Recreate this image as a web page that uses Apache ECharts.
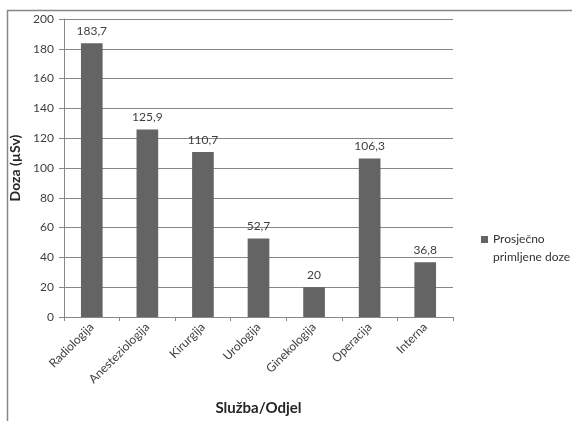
<!DOCTYPE html>
<html>
<head>
<meta charset="utf-8">
<script src="https://cdn.jsdelivr.net/npm/echarts@6/dist/echarts.min.js"></script>
<style>
  html, body { margin: 0; padding: 0; background: #fff; }
  #chart { width: 572px; height: 421px; }
</style>
</head>
<body>
<div id="chart"></div>
<script>
// Average received dose per department
const categories = ['Radiologija', 'Anesteziologija', 'Kirurgija', 'Urologija', 'Ginekologija', 'Operacija', 'Interna'];
const doses = [183.7, 125.9, 110.7, 52.7, 20, 106.3, 36.8];
const seriesName = 'Prosječno primljene doze';
const yTicks = { min: 0, max: 200, interval: 20 };

const FONT = 'Lato, "Open Sans", sans-serif';
const TEXT = '#404040';
const LINE = '#878787';

const chart = echarts.init(document.getElementById('chart'), null, { renderer: 'canvas' });

chart.setOption({
  animation: false,
  textStyle: { fontFamily: FONT },
  grid: { left: 64, right: 119, top: 19, bottom: 102, containLabel: false },
  graphic: [
    {
      type: 'polyline',
      shape: { points: [[7.5, 421], [7.5, 10.5], [572, 10.5]] },
      style: { stroke: LINE, lineWidth: 1.5, fill: null }
    }
  ],
  legend: {
    left: 481,
    top: 230,
    padding: 0,
    orient: 'vertical',
    icon: 'path://M0,0H7V7H0Z M0,24L0.001,24',
    itemWidth: 7,
    itemHeight: 24,
    itemGap: 2,
    formatter: () => 'Prosječno\nprimljene doze',
    textStyle: { fontFamily: FONT, fontSize: 12, color: '#333333', lineHeight: 18 }
  },
  xAxis: {
    type: 'category',
    data: categories,
    name: 'Služba/Odjel',
    nameLocation: 'middle',
    nameGap: 84,
    nameTextStyle: { fontFamily: FONT, fontSize: 15, fontWeight: 'bold', color: '#262626' },
    axisLine: { lineStyle: { color: LINE, width: 1 } },
    axisTick: { show: true, inside: false, length: 4, alignWithLabel: false, lineStyle: { color: LINE } },
    axisLabel: { rotate: 45, fontFamily: FONT, fontSize: 12, color: TEXT, margin: 8, interval: 0 }
  },
  yAxis: {
    type: 'value',
    min: yTicks.min,
    max: yTicks.max,
    interval: yTicks.interval,
    name: 'Doza (µSv)',
    nameLocation: 'middle',
    nameGap: 42,
    nameTextStyle: { fontFamily: FONT, fontSize: 14, fontWeight: 'bold', color: '#262626' },
    axisLine: { show: true, lineStyle: { color: LINE, width: 1 } },
    axisTick: { show: true, inside: false, length: 5, lineStyle: { color: LINE } },
    axisLabel: { fontFamily: FONT, fontSize: 12, color: TEXT, margin: 10 },
    splitLine: { show: true, lineStyle: { color: LINE, width: 1 } }
  },
  series: [
    {
      name: seriesName,
      type: 'bar',
      data: doses,
      barWidth: '39%',
      itemStyle: { color: '#646464' },
      label: {
        show: true,
        position: 'top',
        distance: 6,
        fontFamily: FONT,
        fontSize: 12,
        color: TEXT,
        formatter: p => String(p.value).replace('.', ',')
      }
    }
  ]
});
</script>
</body>
</html>
